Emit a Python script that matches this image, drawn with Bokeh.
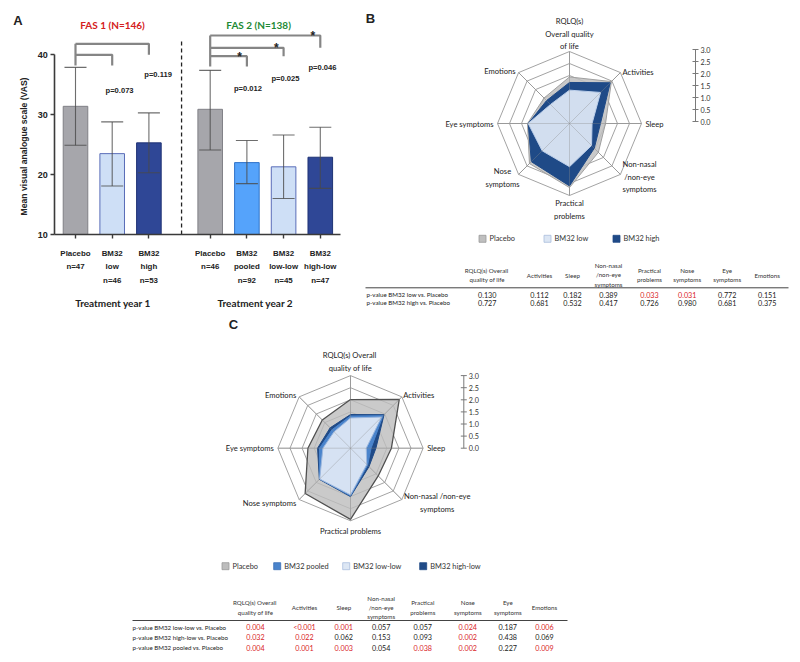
import math
from bokeh.plotting import figure
from bokeh.models import Range1d, LinearAxis, FixedTicker, CustomJSTickFormatter
from bokeh.layouts import column, row
from bokeh.core.properties import value
from bokeh.embed import file_html
from bokeh.resources import INLINE

# ---------------- Panel A data ----------------
a_names = ["Placebo\nn=47", "BM32\nlow\nn=46", "BM32\nhigh\nn=53",
           "Placebo\nn=46", "BM32\npooled\nn=92", "BM32\nlow-low\nn=45", "BM32\nhigh-low\nn=47"]
a_year = [1, 1, 1, 2, 2, 2, 2]
a_mean = [31.4, 23.5, 25.3, 30.9, 22.0, 21.3, 22.9]
a_upper = [37.9, 28.8, 30.3, 37.4, 25.7, 26.6, 27.9]
a_lower = [24.9, 18.1, 20.3, 24.1, 18.5, 16.0, 17.7]
a_comp_ref = [0, 0, 3, 3, 3]
a_comp_vs = [1, 2, 4, 5, 6]
a_pvalue = [0.073, 0.119, 0.012, 0.025, 0.046]
a_ticks = [10, 20, 30, 40]
fas_titles = ["FAS 1 (N=146)", "FAS 2 (N=138)"]
year_titles = ["Treatment year 1", "Treatment year 2"]

# ---------------- Radar / table data ----------------
scale_ticks = [0.0, 0.5, 1.0, 1.5, 2.0, 2.5, 3.0]
b_axes = ["RQLQ(s)\nOverall quality\nof life", "Activities", "Sleep", "Non-nasal\n/non-eye\nsymptoms",
          "Practical\nproblems", "Nose\nsymptoms", "Eye symptoms", "Emotions"]
b_placebo = [1.94, 2.47, 1.50, 1.70, 2.67, 2.36, 1.75, 1.50]
b_low = [1.39, 1.83, 0.94, 1.30, 1.80, 1.61, 1.72, 1.12]
b_high = [1.71, 2.40, 1.29, 1.46, 2.60, 2.25, 1.72, 1.35]
b_series = ["Placebo", "BM32 low", "BM32 high"]

c_axes = ["RQLQ(s)  Overall\nquality of life", "Activities", "Sleep", "Non-nasal /non-eye\nsymptoms",
          "Practical problems", "Nose symptoms", "Eye symptoms", "Emotions"]
c_placebo = [2.01, 2.85, 1.69, 1.62, 2.94, 2.65, 1.76, 1.65]
c_pooled = [1.33, 1.90, 0.85, 1.00, 1.97, 1.80, 1.28, 1.08]
c_lowlow = [1.25, 1.82, 0.65, 0.95, 1.93, 1.80, 1.14, 0.96]
c_highlow = [1.39, 1.96, 1.05, 1.08, 2.00, 1.82, 1.36, 1.19]
c_series = ["Placebo", "BM32 pooled", "BM32 low-low", "BM32 high-low"]

tbl_headers = ["RQLQ(s)  Overall\nquality of life", "Activities", "Sleep", "Non-nasal\n/non-eye\nsymptoms",
               "Practical\nproblems", "Nose\nsymptoms", "Eye\nsymptoms", "Emotions"]
b_rows = ["p-value BM32 low vs. Placebo", "p-value BM32 high vs. Placebo"]
b_p = [["0.130", "0.112", "0.182", "0.389", "0.033", "0.031", "0.772", "0.151"],
       ["0.727", "0.681", "0.532", "0.417", "0.726", "0.980", "0.681", "0.375"]]
c_rows = ["p-value BM32 low-low vs. Placebo", "p-value BM32 high-low vs. Placebo", "p-value BM32 pooled vs. Placebo"]
c_p = [["0.004", "<0.001", "0.001", "0.057", "0.057", "0.024", "0.187", "0.006"],
       ["0.032", "0.022", "0.062", "0.153", "0.093", "0.002", "0.438", "0.069"],
       ["0.004", "0.001", "0.003", "0.054", "0.038", "0.002", "0.227", "0.009"]]

# ---------------- styles ----------------
ARIAL = "Liberation Sans"
CAL = "Lato"
TXT = "#222222"
RED = "#D9231F"
GRID = "#A3A3A3"
bar_fill = ["#A6A6AB", "#CEDFF6", "#2F4796", "#A6A6AB", "#55A3FB", "#CEDFF6", "#2F4796"]
bar_line = ["#808086", "#5A6DB8", "#1F3275", "#808086", "#2F72C9", "#5A6DB8", "#1F3275"]


def txt(p, x, y, t, size, font=CAL, style="normal", color=TXT, align="center",
        baseline="middle", angle=0.0, lh=1.2):
    xs = x if isinstance(x, list) else [x]
    ys = y if isinstance(y, list) else [y]
    ts = t if isinstance(t, list) else [t]
    cs = color if isinstance(color, list) else [color] * len(ts)
    p.text(x=xs, y=ys, text=ts, text_color=cs, text_font=value(font),
           text_font_size=value(size), text_font_style=style, text_align=align,
           text_baseline=baseline, angle=angle, text_line_height=lh)


# =============== Panel A ===============
PXU = 36.7   # px per bar slot
PYU = 5.99   # px per VAS unit
gap = 0.67
xpos = [round(i + (gap if a_year[i] == 2 else 0.0), 2) for i in range(len(a_mean))]
WA, HA = 353, 318
x0 = -75 / PXU
y0 = 10 - (HA - 234) / PYU
pA = figure(width=WA, height=HA, output_backend="svg", toolbar_location=None,
            x_range=Range1d(x0, x0 + WA / PXU), y_range=Range1d(y0, y0 + HA / PYU),
            x_axis_type=None, y_axis_type=None, min_border=0, outline_line_color=None)
yax_x = -20.7 / PXU
yax = LinearAxis(fixed_location=yax_x, bounds=(10, 40), ticker=FixedTicker(ticks=a_ticks, minor_ticks=[]))
yax.axis_line_color = "#3A3A3A"
yax.axis_line_width = 1.6
yax.major_tick_line_color = "#3A3A3A"
yax.major_tick_line_width = 1.4
yax.major_tick_in = 0
yax.major_tick_out = 4
yax.major_label_text_font = ARIAL
yax.major_label_text_font_style = "bold"
yax.major_label_text_font_size = "9px"
yax.major_label_text_color = TXT
yax.major_label_standoff = 3
pA.add_layout(yax, "left")
xax = LinearAxis(fixed_location=10, bounds=(yax_x, 265 / PXU), ticker=FixedTicker(ticks=xpos, minor_ticks=[]),
                 formatter=CustomJSTickFormatter(code="return ''"))
xax.axis_line_color = "#3A3A3A"
xax.axis_line_width = 1.6
xax.major_tick_line_color = "#3A3A3A"
xax.major_tick_line_width = 1.4
xax.major_tick_in = 0
xax.major_tick_out = 4
pA.add_layout(xax, "below")

pA.vbar(x=xpos, top=a_mean, bottom=10, width=0.67, fill_color=bar_fill, line_color=bar_line, line_width=1)
cap = 0.3
pA.segment(x0=xpos, y0=a_lower, x1=xpos, y1=a_upper, line_color="#4A4A4A", line_width=1.1, line_alpha=0.8)
pA.segment(x0=[x - cap for x in xpos], y0=a_upper, x1=[x + cap for x in xpos], y1=a_upper,
           line_color="#4A4A4A", line_width=1.1, line_alpha=0.8)
pA.segment(x0=[x - cap for x in xpos], y0=a_lower, x1=[x + cap for x in xpos], y1=a_lower,
           line_color="#4A4A4A", line_width=1.1, line_alpha=0.8)

# dashed separator
pA.segment(x0=[2.89], y0=[10], x1=[2.89], y1=[42.4], line_color="#222222", line_width=1.3, line_dash="4 3")

# comparison brackets (layout levels)
br_level = [40.0, 41.84, 39.77, 41.17, 43.22]
br_drop = [38.2, 40.0, 38.05, 39.77, 41.17]
BRC = "#858585"
for k in range(len(a_pvalue)):
    xa, xb = xpos[a_comp_ref[k]], xpos[a_comp_vs[k]]
    pA.line(x=[xa, xb, xb], y=[br_level[k], br_level[k], br_drop[k]], line_color=BRC, line_width=2.2)
for ref in sorted(set(a_comp_ref)):
    lv = [br_level[k] for k in range(len(a_pvalue)) if a_comp_ref[k] == ref]
    dr = [br_drop[k] for k in range(len(a_pvalue)) if a_comp_ref[k] == ref]
    pA.line(x=[xpos[ref], xpos[ref]], y=[min(dr), max(lv)], line_color=BRC, line_width=2.2)

# significance stars
sx, sy = [], []
for k in range(len(a_pvalue)):
    if a_pvalue[k] < 0.05:
        sx.append(xpos[a_comp_vs[k]] - 0.2)
        sy.append(br_level[k] - 0.1)
txt(pA, sx, sy, ["*"] * len(sx), "12px", font=ARIAL, style="bold", baseline="alphabetic")

# p-value labels
p_dx = [0.2, 0.25, 0.03, 0.05, 0.06]
p_y = [34.04, 36.71, 34.37, 36.04, 37.88]
txt(pA, [xpos[a_comp_vs[k]] + p_dx[k] for k in range(5)], p_y,
    ["p=%.3f" % v for v in a_pvalue], "7.6px", font=ARIAL, style="bold")

# category labels
txt(pA, xpos, [10 - 14 / PYU] * len(xpos), a_names, "7.9px", font=ARIAL, style="bold",
    baseline="top", lh=1.5)
# group titles
txt(pA, [1.01, 4.99], [44.9, 44.9], fas_titles, "10px", style="bold", color=["#D42020", "#1E8A35"])
txt(pA, [1.02, 4.9], [10 - 68 / PYU] * 2, year_titles, "10px", style="bold")
# y axis title
txt(pA, -52 / PXU, 24.7, "Mean visual analogue scale (VAS)", "8.6px", font=ARIAL, style="bold",
    angle=math.pi / 2)
txt(pA, -57.5 / PXU, 10 + 214.5 / PYU, "A", "13px", font=ARIAL, style="bold")


# =============== radar helper ===============
def radar(p, cx, cy, R, data, fills, lines, alphas, widths, sx_, sy_):
    n = 8
    ang = [2 * math.pi * i / n for i in range(n)]
    for lev in scale_ticks[1:]:
        xs = [cx + R * lev * math.sin(a) for a in ang]
        ys = [cy - R * lev * math.cos(a) for a in ang]
        p.patch(xs + [xs[0]], ys + [ys[0]], fill_color=None, line_color=GRID, line_width=1)
    outer = scale_ticks[-1]
    sp_x1 = [cx + R * outer * math.sin(a) for a in ang]
    sp_y1 = [cy - R * outer * math.cos(a) for a in ang]
    p.segment(x0=[cx] * n, y0=[cy] * n, x1=sp_x1, y1=sp_y1, line_color=GRID, line_width=1)
    for vals, fc, lc, al, lw in zip(data, fills, lines, alphas, widths):
        xs = [cx + R * v * math.sin(a) for v, a in zip(vals, ang)]
        ys = [cy - R * v * math.cos(a) for v, a in zip(vals, ang)]
        p.patch(xs + [xs[0]], ys + [ys[0]], fill_color=fc, fill_alpha=al, line_color=lc, line_width=lw)
    p.segment(x0=[cx] * n, y0=[cy] * n, x1=sp_x1, y1=sp_y1, line_color="#8A8A8A", line_width=0.8, line_alpha=0.45)
    # radial scale
    p.segment(x0=[sx_], y0=[sy_], x1=[sx_], y1=[sy_ - R * outer], line_color="#7A7A7A", line_width=1)
    p.segment(x0=[sx_ - 3] * len(scale_ticks), y0=[sy_ - R * t for t in scale_ticks],
              x1=[sx_ + 3] * len(scale_ticks), y1=[sy_ - R * t for t in scale_ticks],
              line_color="#7A7A7A", line_width=1)
    txt(p, [sx_ + 5] * len(scale_ticks), [sy_ - R * t for t in scale_ticks],
        ["%.1f" % t for t in scale_ticks], "7.2px", align="left", color="#333333")


def table(p, colx, hy, hdr, rows, vals, rowx, rowy, line_x0, line_x1, line_y):
    txt(p, colx, [hy] * len(colx), hdr, "6.2px", color="#333333", lh=1.3)
    p.segment(x0=[line_x0], y0=[line_y], x1=[line_x1], y1=[line_y], line_color="#444444", line_width=1)
    txt(p, [rowx] * len(rows), rowy, rows, "6.2px", align="left", color="#222222")
    for r, rv in enumerate(vals):
        cols = [RED if float(v.lstrip("<")) < 0.05 else "#222222" for v in rv]
        txt(p, colx, [rowy[r]] * len(rv), rv, "7.2px", color=cols)


def legend(p, xs, y, names, fills, lines, size=7):
    p.scatter(x=xs, y=[y] * len(xs), marker="square", size=size, fill_color=fills, line_color=lines, line_width=0.8)
    txt(p, [x + 7 for x in xs], [y] * len(xs), names, "7.4px", align="left", color="#333333")


# =============== Panel B ===============
pB = figure(width=800 - WA, height=HA, output_backend="svg", toolbar_location=None,
            x_range=Range1d(WA, 800), y_range=Range1d(HA, 0),
            x_axis_type=None, y_axis_type=None, min_border=0, outline_line_color=None)
B_fill = {"Placebo": "#BFBFBF", "BM32 low": "#DCE6F4", "BM32 high": "#1F4A87"}
B_line = {"Placebo": "#A0A0A0", "BM32 low": "#BCCFEA", "BM32 high": "#1F4A87"}
b_data = {"Placebo": b_placebo, "BM32 low": b_low, "BM32 high": b_high}
orderB = ["Placebo", "BM32 high", "BM32 low"]
radar(pB, 569, 123, 24, [b_data[s] for s in orderB], [B_fill[s] for s in orderB],
      [B_line[s] for s in orderB], [0.85, 1.0, 0.95], [1, 1, 1], 695, 121)
b_lab_x = [569, 622, 645, 639, 569, 502, 493, 515]
b_lab_y = [33.3, 71, 123.7, 176, 209, 177, 123.7, 70.7]
b_lab_al = ["center", "left", "left", "center", "center", "center", "right", "right"]
for i in range(8):
    txt(pB, b_lab_x[i], b_lab_y[i], b_axes[i], "7.6px", align=b_lab_al[i], lh=1.25)
legend(pB, [482, 547, 616], 238.3, b_series, [B_fill[s] for s in b_series], ["#999999", "#A9BEDD", "#1F4A87"], 7)
table(pB, [486.7, 539, 572, 608, 649, 686.7, 726.7, 766.7], 274.5, tbl_headers, b_rows, b_p,
      366, [294, 302.3], 365, 788, 287.3)
txt(pB, 370, 18, "B", "13px", font=ARIAL, style="bold")

# =============== Panel C ===============
HC = 661 - HA
pC = figure(width=800, height=HC, output_backend="svg", toolbar_location=None,
            x_range=Range1d(0, 800), y_range=Range1d(HA + HC, HA),
            x_axis_type=None, y_axis_type=None, min_border=0, outline_line_color=None)
C_fill = {"Placebo": "#BDBDBD", "BM32 pooled": "#4A84CC", "BM32 low-low": "#DDE7F4", "BM32 high-low": "#1F4A87"}
C_line = {"Placebo": "#505050", "BM32 pooled": "#4A84CC", "BM32 low-low": "#9DB8DE", "BM32 high-low": "#1F4A87"}
c_data = {"Placebo": c_placebo, "BM32 pooled": c_pooled, "BM32 low-low": c_lowlow, "BM32 high-low": c_highlow}
orderC = ["Placebo", "BM32 high-low", "BM32 pooled", "BM32 low-low"]
radar(pC, 350, 447.7, 24.2, [c_data[s] for s in orderC], [C_fill[s] for s in orderC],
      [C_line[s] for s in orderC], [0.8, 1.0, 1.0, 0.95], [1.3, 1, 1, 1], 463.3, 447.7)
c_lab_x = [350, 402.7, 426.7, 436.7, 350, 295.7, 273.3, 295.7]
c_lab_y = [361, 394, 447.7, 502.3, 530, 502.3, 447.7, 394]
c_lab_al = ["center", "left", "left", "center", "center", "right", "right", "right"]
for i in range(8):
    txt(pC, c_lab_x[i], c_lab_y[i], c_axes[i], "7.6px", align=c_lab_al[i], lh=1.3)
legend(pC, [225, 276.7, 345.7, 422.7], 565.7, c_series, [C_fill[s] for s in c_series],
       ["#999999", "#3A6FB5", "#A9BEDD", "#1F4A87"], 7)
table(pC, [255, 304, 343.3, 380.7, 422.3, 467.3, 507.3, 544], 607, tbl_headers, c_rows, c_p,
      132, [626.7, 636.7, 647.3], 132, 567, 620)
txt(pC, 233, 324, "C", "13px", font=ARIAL, style="bold")

layout = column(row(pA, pB), pC)
open("out.html", "w").write(file_html(layout, INLINE))
